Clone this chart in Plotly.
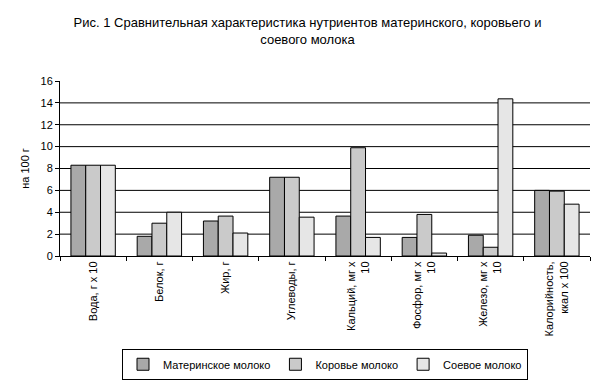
import plotly.graph_objects as go

categories = ["Вода, г x 10", "Белок, г", "Жир, г", "Углеводы, г",
              "Кальций, мг x<br>10", "Фосфор, мг x<br>10", "Железо, мг x<br>10",
              "Калорийность,<br>ккал x 100"]
series_names = ["Материнское молоко", "Коровье молоко", "Соевое молоко"]
maternal = [8.3, 1.8, 3.2, 7.2, 3.65, 1.7, 1.9, 6.0]
cow = [8.3, 3.0, 3.65, 7.2, 9.9, 3.8, 0.8, 5.93]
soy = [8.3, 4.0, 2.1, 3.55, 1.7, 0.27, 14.37, 4.74]
y_ticks = [0, 2, 4, 6, 8, 10, 12, 14, 16]
grid_vals = [2, 4, 6, 8, 10, 12, 14]

colors = ["#a9a9a9", "#cacaca", "#e6e6e6"]
font = "Liberation Sans, Arial, sans-serif"

fig = go.Figure()
for name, vals, col in zip(series_names, [maternal, cow, soy], colors):
    fig.add_trace(go.Bar(name=name, x=categories, y=vals,
                         marker=dict(color=col, line=dict(color="black", width=1))))

for g in grid_vals:
    fig.add_hline(y=g, line=dict(color="black", width=1), layer="below")

fig.update_layout(
    width=599, height=376,
    paper_bgcolor="white", plot_bgcolor="white",
    margin=dict(l=52, r=17, t=73, b=128, autoexpand=False),
    barmode="group", bargap=0.33, bargroupgap=0,
    font=dict(family=font, size=11, color="black"),
    title=dict(text="Рис. 1 Сравнительная характеристика нутриентов материнского, коровьего и<br>соевого молока",
               x=0.5, xanchor="center", y=0.949, yanchor="top",
               font=dict(family=font, size=13, color="black")),
    legend=dict(orientation="h", x=0.5, xanchor="center", y=-0.53, yanchor="top",
                bordercolor="black", borderwidth=1, font=dict(size=11),
                itemwidth=30),
    yaxis=dict(range=[0, 16], tickvals=y_ticks, showgrid=False, automargin=False,
               showline=True, linecolor="black", linewidth=1,
               ticks="outside", ticklen=4, tickcolor="black",
               title=dict(text="на 100 г", standoff=8, font=dict(size=11))),
    xaxis=dict(showline=True, linecolor="black", linewidth=1, automargin=False,
               ticks="outside", ticklen=4, tickcolor="black", tickson="boundaries",
               tickangle=-90, showgrid=False),
)

fig.write_html("out.html")
